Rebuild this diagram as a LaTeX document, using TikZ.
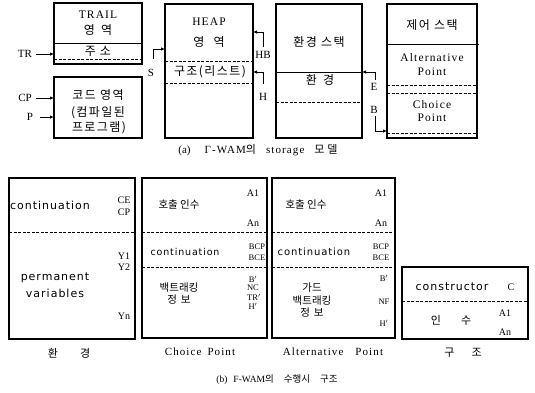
\documentclass[tikz,border=0pt]{standalone}
\usepackage{fontspec}
\usetikzlibrary{arrows.meta}
\newfontfamily\kr{Noto Sans CJK KR}
\newfontfamily\krw[LetterSpace=12]{Noto Sans CJK KR}
\newfontfamily\ser[LetterSpace=10]{Liberation Serif}
\newfontfamily\serp{Liberation Serif}
\newfontfamily\sfx[LetterSpace=9]{DejaVu Sans}
\begin{document}
\begin{tikzpicture}[x=1pt,y=-1pt,
  box/.style={draw, line width=1.2pt, anchor=north west, inner sep=0pt, outer sep=0pt},
  div/.style={line width=0.8pt},
  dsh/.style={line width=0.8pt, dash pattern=on 3pt off 1.5pt},
  ptr/.style={line width=0.8pt, -{Latex[length=4pt,width=3.5pt]}},
  lab/.style={inner sep=0pt, font=\serp\fontsize{11}{12}\selectfont},
  ka/.style={inner sep=0pt, font=\krw\fontsize{12}{13}\selectfont},
  la/.style={inner sep=0pt, font=\ser\fontsize{11.5}{12}\selectfont},
  kb/.style={inner sep=0pt, font=\kr\fontsize{10.5}{12}\selectfont},
  rb/.style={inner sep=0pt, font=\serp\fontsize{10}{11}\selectfont},
  rs/.style={inner sep=0pt, font=\serp\fontsize{8.5}{9}\selectfont},
  sb/.style={inner sep=0pt, font=\sfx\fontsize{11}{12}\selectfont},
  capt/.style={inner sep=0pt, font=\ser\fontsize{11}{12}\selectfont},
]
\useasboundingbox (0,0) rectangle (535,392);

% ---------- (a) ----------
\node[box, minimum width=88pt, minimum height=61pt] (trail) at (54,3) {};
\draw[div] (54,43) -- (142,43);
\draw[dsh] (54,59) -- (142,59);
\node[la] (trt) at (98,15) {TRAIL};
\node[ka] (tra) at (98,30) {영\hspace{6pt}역};
\node[ka] (trs) at (98,51) {주\hspace{4pt}소};

\node[box, minimum width=88pt, minimum height=61pt] (code) at (54,77) {};
\node[ka] (co1) at (98,95) {코드 영역};
\node[ka] (co2) at (98,113) {(컴파일된};
\node[ka] (co3) at (99,128) {프로그램)};

\node[box, minimum width=88pt, minimum height=134pt] (heap) at (165,4) {};
\draw[dsh] (165,61) -- (253,61);
\draw[dsh] (165,83) -- (253,83);
\node[la] (ht) at (209,22) {HEAP};
\node[ka] (ha) at (209,42) {영\hspace{9pt}역};
\node[ka] (hs) at (210,72) {구조(리스트)};

\node[box, minimum width=86pt, minimum height=134pt] (env) at (276,4) {};
\draw[div] (276,72) -- (362,72);
\draw[dsh] (276,102) -- (362,102);
\node[ka] (et) at (319,42) {환경 스택};
\node[ka] (ee) at (320,80) {환\hspace{6pt}경};

\node[box, minimum width=90pt, minimum height=134pt] (ctrl) at (387,4) {};
\draw[div] (387,44) -- (479,44);
\draw[dsh] (387,85) -- (477,85);
\draw[dsh] (387,93) -- (477,93);
\draw[dsh] (387,133) -- (477,133);
\node[ka] (ct) at (432,25) {제어 스택};
\node[la] (ca1) at (432,58) {Alternative};
\node[la] (ca2) at (432,72) {Point};
\node[la] (cc1) at (432,105) {Choice};
\node[la] (cc2) at (432,118) {Point};

% pointers
\node[lab] (tr) at (25,54) {TR};
\draw[ptr] ([xshift=4pt]tr.east) -- (tr -| trail.west);
\node[lab] (cp) at (25,98) {CP};
\draw[ptr] ([xshift=4pt]cp.east) -- (cp -| code.west);
\node[lab] (p) at (30,117) {P};
\draw[ptr] ([xshift=7pt]p.east) -- (p -| code.west);

\node[lab] (s) at (151,73) {S};
\coordinate (sb) at (153,59);
\coordinate (st) at (153,49);
\draw[ptr] (sb) -- (st) -- (st -| heap.west);

\node[lab] (hb) at (263,55) {HB};
\coordinate (hbb) at (263,47);
\coordinate (hbt) at (263,32);
\draw[ptr] (hbb) -- (hbt) -- (hbt -| heap.east);

\node[lab] (h) at (263,97) {H};
\coordinate (hhb) at (263,84);
\coordinate (hht) at (263,72);
\draw[ptr] (hhb) -- (hht) -- (hht -| heap.east);

\node[lab] (e) at (374,87) {E};
\coordinate (eb) at (375,80);
\coordinate (et2) at (375,72);
\draw[ptr] (eb) -- (et2) -- (et2 -| env.east);

\node[lab] (b) at (374,110) {B};
\coordinate (bt) at (375,116);
\coordinate (bb) at (375,131);
\draw[ptr] (bt) -- (bb) -- (bb -| ctrl.west);

\node[capt] (capa) at (258,150) {{\serp (a)}\hspace{14pt}{\ser Γ-WAM}{\kr 의}\hspace{10pt}storage\hspace{10pt}{\kr 모\hspace{3pt}델}};

% ---------- (b) ----------
\node[box, minimum width=126pt, minimum height=161pt] (envf) at (9,178) {};
\draw[dsh] (9,232) -- (135,232);
\node[sb] (ec) at (50,205) {continuation};
\node[rb] (ce) at (124,200) {CE};
\node[rb] (ecp) at (124,212) {CP};
\node[rb] (y1) at (124,256) {Y1};
\node[rb] (y2) at (124,267) {Y2};
\node[rb] (yn) at (124,316) {Yn};
\node[sb] (pv1) at (55,278) {permanent};
\node[sb] (pv2) at (55,293) {variables};
\node[inner sep=0pt, font=\kr\fontsize{11}{12}\selectfont] (envc) at (69,353) {환\hspace{22pt}경};

\node[box, minimum width=125pt, minimum height=160pt] (choice) at (142,178) {};
\draw[dsh] (142,232) -- (267,232);
\draw[dsh] (142,267) -- (267,267);
\node[kb] (chk) at (179,205) {호출 인수};
\node[rb] (cha1) at (253,193) {A1};
\node[rb] (chan) at (253,223) {An};
\node[inner sep=0pt, font=\sfx\fontsize{9.5}{11}\selectfont] (chc) at (185,252) {continuation};
\node[rs] (chbcp) at (257,246.5) {BCP};
\node[rs] (chbce) at (257,257.5) {BCE};
\node[kb] (chb1) at (179,288) {백트래킹};
\node[kb] (chb2) at (179,300) {정\hspace{4pt}보};
\node[rs] (chr1) at (253,279) {B$'$};
\node[rs] (chr2) at (253,288) {NC};
\node[rs] (chr3) at (254,297) {TR$'$};
\node[rs] (chr4) at (253,306.5) {H$'$};
\node[capt] (chcap) at (200,352) {Choice\hspace{6pt}Point};

\node[box, minimum width=123pt, minimum height=160pt] (alt) at (272,178) {};
\draw[dsh] (272,232) -- (395,232);
\draw[dsh] (272,267) -- (395,267);
\node[kb] (alk) at (306,205) {호출 인수};
\node[rb] (ala1) at (381,193) {A1};
\node[rb] (alan) at (381,223) {An};
\node[inner sep=0pt, font=\sfx\fontsize{10}{11}\selectfont] (alc) at (314,252) {continuation};
\node[rs] (albcp) at (381,246.5) {BCP};
\node[rs] (albce) at (381,257.5) {BCE};
\node[kb] (alg) at (312,288) {가드};
\node[kb] (alb1) at (312,301) {백트래킹};
\node[kb] (alb2) at (312,313) {정\hspace{4pt}보};
\node[rs] (alr1) at (384,278) {B$'$};
\node[rs] (alr2) at (384,302) {NF};
\node[rs] (alr3) at (384,323) {H$'$};
\node[capt] (alcap) at (333,352) {Alternative\hspace{12pt}Point};

\node[box, minimum width=126pt, minimum height=72pt] (struct) at (402,267) {};
\draw[dsh] (402,301) -- (528,301);
\node[sb] (sc) at (452,287) {constructor};
\node[rb] (scc) at (511,287) {C};
\node[inner sep=0pt, font=\kr\fontsize{11}{12}\selectfont] (sin) at (451,320) {인\hspace{20pt}수};
\node[rb] (sa1) at (505,313) {A1};
\node[rb] (san) at (505,332) {An};
\node[inner sep=0pt, font=\kr\fontsize{11}{12}\selectfont] (stc) at (463,353) {구\hspace{17pt}조};

\node[inner sep=0pt, font=\serp\fontsize{9.5}{11}\selectfont] (capb) at (277,380) {(b)\hspace{6pt}F-WAM{\kr 의}\hspace{10pt}{\kr 수행시}\hspace{10pt}{\kr 구조}};
\end{tikzpicture}
\end{document}
